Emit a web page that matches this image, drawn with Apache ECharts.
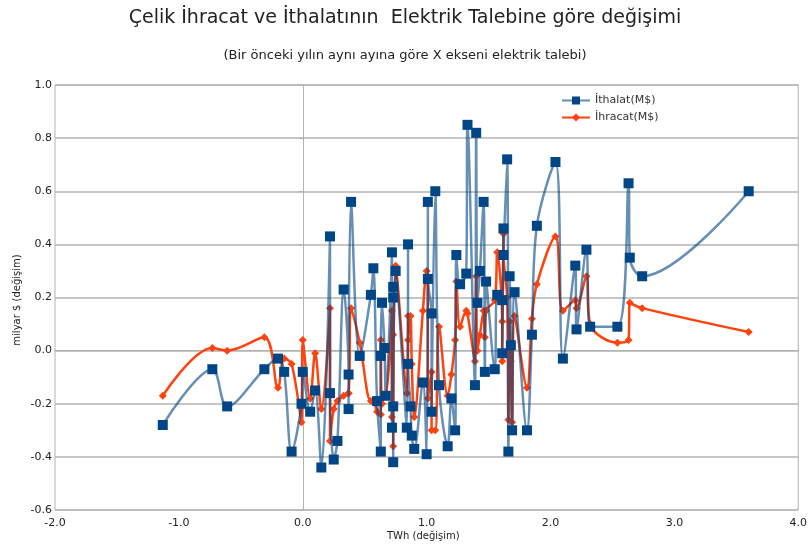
<!DOCTYPE html>
<html>
<head>
<meta charset="utf-8">
<script src="https://cdn.jsdelivr.net/npm/echarts@6/dist/echarts.min.js"></script>
<style>
html,body{margin:0;padding:0;background:#fff;}
#c{width:810px;height:549px;}
</style>
</head>
<body>
<div id="c"></div>
<script>
// x: TWh change (shared by both series)
const twh = [-1.13,-0.73,-0.61,-0.31,-0.20,-0.15,-0.09,-0.01,0.00,0.06,0.10,0.15,0.22,0.22,0.25,0.28,0.33,0.37,0.37,0.39,
  0.46,0.55,0.57,0.60,0.63,0.63,0.64,0.66,0.67,0.72,0.72,0.73,0.73,0.73,0.73,0.75,0.84,0.85,0.85,0.87,
  0.88,0.90,0.97,1.00,1.01,1.01,1.04,1.04,1.07,1.10,1.17,1.20,1.23,1.24,1.27,1.32,1.33,1.39,1.40,1.41,
  1.43,1.46,1.47,1.48,1.55,1.57,1.61,1.61,1.62,1.62,1.65,1.66,1.67,1.68,1.69,1.71,1.81,1.85,1.89,2.04,
  2.10,2.20,2.21,2.29,2.32,2.54,2.63,2.64,2.74,3.60];
// İthalat (import) change, billion $
const ithalat = [-0.28,-0.07,-0.21,-0.07,-0.03,-0.08,-0.38,-0.20,-0.08,-0.23,-0.15,-0.44,0.43,-0.16,-0.41,-0.34,0.23,-0.09,-0.22,0.56,
  -0.02,0.21,0.31,-0.19,-0.38,-0.02,0.18,0.01,-0.17,0.37,-0.29,0.24,0.20,-0.21,-0.42,0.30,-0.29,0.40,-0.05,-0.21,
  -0.32,-0.37,-0.12,-0.39,0.56,0.27,0.14,-0.23,0.60,-0.13,-0.36,-0.18,-0.30,0.36,0.25,0.29,0.85,-0.13,0.82,0.18,
  0.30,0.56,-0.08,0.26,-0.07,0.21,0.19,-0.01,0.46,0.36,0.72,-0.38,0.28,0.02,-0.30,0.22,-0.30,0.06,0.47,0.71,
  -0.03,0.32,0.08,0.38,0.09,0.09,0.63,0.35,0.28,0.60];
// İhracat (export) change, billion $
const ihracat = [-0.17,0.01,0.00,0.05,-0.14,-0.03,-0.05,-0.27,0.04,-0.18,-0.01,-0.22,0.16,-0.34,-0.22,-0.19,-0.17,-0.16,-0.16,0.16,
  0.03,-0.19,-0.19,-0.23,-0.24,0.04,-0.20,-0.17,-0.17,0.15,-0.25,0.06,-0.20,-0.21,-0.36,0.32,-0.16,0.13,0.04,0.13,
  -0.05,-0.25,0.15,0.30,0.26,-0.18,-0.08,-0.30,-0.30,0.09,-0.17,-0.09,0.04,0.26,0.09,0.15,0.14,-0.04,0.28,0.00,
  0.06,0.15,0.05,0.15,0.19,0.37,0.11,-0.04,0.44,0.37,0.20,-0.26,0.11,-0.04,-0.27,0.13,-0.14,0.12,0.25,0.43,
  0.15,0.19,0.16,0.28,0.10,0.03,0.04,0.18,0.16,0.07];
const xTicks = ['-2.0','-1.0','0.0','1.0','2.0','3.0','4.0'];
const yTicks = ['-0.6','-0.4','-0.2','0.0','0.2','0.4','0.6','0.8','1.0'];
const seriesNames = ['İthalat(M$)','İhracat(M$)'];

const font = 'DejaVu Sans';
const chart = echarts.init(document.getElementById('c'));
chart.setOption({
  animation:false,
  backgroundColor:'#fff',
  title:[
    {text:'Çelik İhracat ve İthalatının  Elektrik Talebine göre değişimi', left:'center', top:4,
     textStyle:{fontFamily:font, fontSize:19, fontWeight:'normal', color:'#222'}},
    {text:'(Bir önceki yılın aynı ayına göre X ekseni elektrik talebi)', left:'center', top:44,
     textStyle:{fontFamily:font, fontSize:13, fontWeight:'normal', color:'#222'}}
  ],
  legend:{
    orient:'vertical', left:556, top:90, itemGap:6, itemWidth:28, itemHeight:10,
    textStyle:{fontFamily:font, fontSize:11, color:'#333'},
    data:seriesNames
  },
  grid:{left:55, right:5, top:85, bottom:39, show:true, borderColor:'#b3b3b3', borderWidth:1},
  xAxis:{
    type:'value', min:-2, max:4, interval:1,
    axisLine:{onZero:true, lineStyle:{color:'#b3b3b3'}},
    axisTick:{show:false},
    splitLine:{show:false},
    axisLabel:{fontFamily:font, fontSize:11, color:'#222', margin:8,
      formatter:(v)=>xTicks[Math.round(v+2)]}
  },
  yAxis:{
    type:'value', min:-0.6, max:1.0, interval:0.2,
    axisLine:{onZero:true, lineStyle:{color:'#b3b3b3'}},
    axisTick:{show:true, length:4, lineStyle:{color:'#b3b3b3'}},
    splitLine:{show:true, lineStyle:{color:'#b3b3b3', width:1.5}},
    axisLabel:{fontFamily:font, fontSize:11, color:'#222', margin:3,
      formatter:(v)=>yTicks[Math.round((v+0.6)/0.2)]}
  },
  graphic:[
    {type:'text', left:387, top:531, style:{text:'TWh (değişim)', fontFamily:font, fontSize:10, fill:'#222'}},
    {type:'text', x:17, y:300, rotation:Math.PI/2, style:{text:'milyar $ (değişim)', fontFamily:font, fontSize:10, fill:'#222', align:'center', verticalAlign:'middle'}}
  ],
  series:[
    {name:seriesNames[0], type:'line', smooth:0.35, z:3,
     data:twh.map((x,i)=>[x, ithalat[i]]),
     symbol:'rect', symbolSize:10,
     lineStyle:{color:'rgba(0,69,134,0.6)', width:2.5},
     itemStyle:{color:'#004586'}},
    {name:seriesNames[1], type:'line', smooth:0.35, z:2,
     data:twh.map((x,i)=>[x, ihracat[i]]),
     symbol:'diamond', symbolSize:8,
     lineStyle:{color:'#ff420e', width:2.5},
     itemStyle:{color:'#ff420e'}}
  ]
});
</script>
</body>
</html>
